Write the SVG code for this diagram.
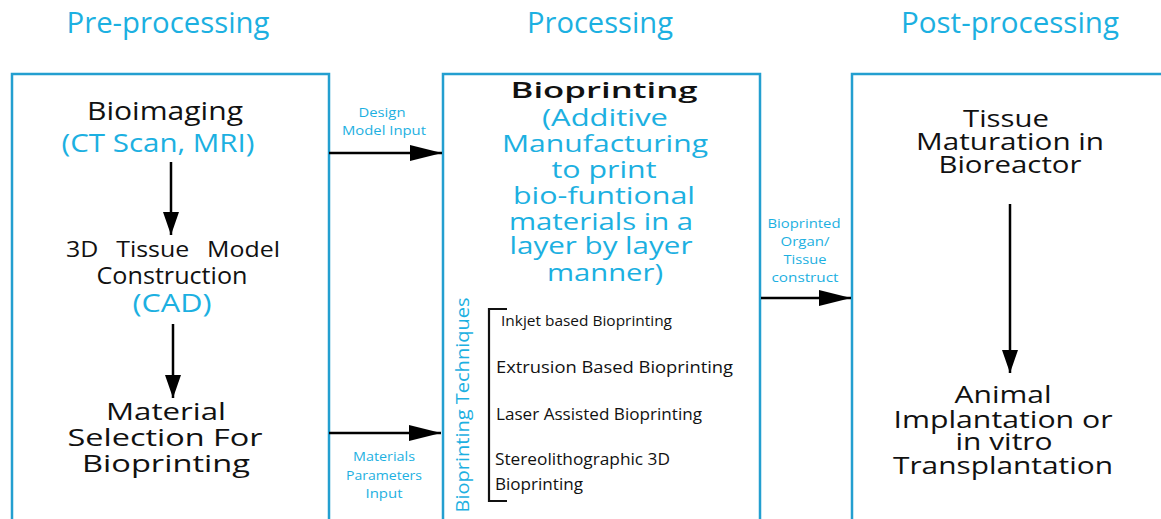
<svg xmlns="http://www.w3.org/2000/svg" width="1161" height="519" viewBox="0 0 1161 519">
<defs>
<style>
text{font-family:"Open Sans","Noto Sans",sans-serif;text-anchor:middle}
.h{font-size:29px;fill:#1cb0e1}
.k{fill:#111}
.c{fill:#1cb0e1}
.big{font-size:26px}
.mid{font-size:24px}
.lbl{font-size:12px;fill:#1cb0e1}
.box{fill:#fff;stroke:#239fd0;stroke-width:2.5}
.ln{stroke:#000;stroke-width:2.5;fill:none}
.it{fill:#111;text-anchor:start}
</style>
<marker id="ahb" viewBox="0 0 10 10" refX="10" refY="5" markerWidth="32" markerHeight="16" markerUnits="userSpaceOnUse" orient="auto" preserveAspectRatio="none">
<path d="M0,0 L10,5 L0,10 z" fill="#000"/>
</marker>
<marker id="ahv" viewBox="0 0 10 10" refX="10" refY="5" markerWidth="23" markerHeight="16" markerUnits="userSpaceOnUse" orient="auto" preserveAspectRatio="none">
<path d="M0,0 L10,5 L0,10 z" fill="#000"/>
</marker>
</defs>
<rect width="1161" height="519" fill="#fff"/>
<g id="headers">
<text class="h" x="168" y="33" textLength="203" lengthAdjust="spacingAndGlyphs">Pre-processing</text>
<text class="h" x="600" y="33" textLength="146" lengthAdjust="spacingAndGlyphs">Processing</text>
<text class="h" x="1010" y="33" textLength="218" lengthAdjust="spacingAndGlyphs">Post-processing</text>
</g>
<g id="pre">
<rect class="box" x="12" y="74" width="317" height="460"/>
<g id="bioimaging">
<text class="k big" x="165" y="120" textLength="156" lengthAdjust="spacingAndGlyphs">Bioimaging</text>
<text class="c big" x="158" y="152" textLength="193" lengthAdjust="spacingAndGlyphs">(CT Scan, MRI)</text>
</g>
<g id="model">
<text class="k" x="173" y="257" font-size="22" textLength="214" lengthAdjust="spacingAndGlyphs" word-spacing="10">3D Tissue Model</text>
<text class="k" x="172" y="284" font-size="23" textLength="151" lengthAdjust="spacingAndGlyphs">Construction</text>
<text class="c" x="172" y="312" font-size="26" textLength="79" lengthAdjust="spacingAndGlyphs">(CAD)</text>
</g>
<g id="material">
<text class="k mid" x="166" y="420" textLength="120" lengthAdjust="spacingAndGlyphs">Material</text>
<text class="k mid" x="165" y="446" textLength="195" lengthAdjust="spacingAndGlyphs">Selection For</text>
<text class="k mid" x="166" y="472" textLength="168" lengthAdjust="spacingAndGlyphs">Bioprinting</text>
</g>
</g>
<g id="proc">
<rect class="box" x="443" y="74" width="317" height="460"/>
<g id="bioprinting">
<text x="604" y="98" font-size="22" font-weight="600" class="k" textLength="187" lengthAdjust="spacingAndGlyphs">Bioprinting</text>
<text class="c mid" x="605" y="126" textLength="126" lengthAdjust="spacingAndGlyphs">(Additive</text>
<text class="c mid" x="605" y="152" textLength="206" lengthAdjust="spacingAndGlyphs">Manufacturing</text>
<text class="c mid" x="604" y="178" textLength="105" lengthAdjust="spacingAndGlyphs">to print</text>
<text class="c mid" x="604" y="204" textLength="182" lengthAdjust="spacingAndGlyphs">bio-funtional</text>
<text class="c mid" x="601" y="230" textLength="184" lengthAdjust="spacingAndGlyphs">materials in a</text>
<text class="c mid" x="601" y="254" textLength="183" lengthAdjust="spacingAndGlyphs">layer by layer</text>
<text class="c mid" x="605" y="281" textLength="116" lengthAdjust="spacingAndGlyphs">manner)</text>
</g>
<g id="techniques">
<text class="c" font-size="18" transform="translate(469,405) rotate(-90)" textLength="215" lengthAdjust="spacingAndGlyphs">Bioprinting Techniques</text>
<path d="M507,309 H489 V501 H507" stroke="#111" stroke-width="2.2" fill="none"/>
<text class="it" x="501" y="326" font-size="14" textLength="171" lengthAdjust="spacingAndGlyphs">Inkjet based Bioprinting</text>
<text class="it" x="496" y="373" font-size="16" textLength="237" lengthAdjust="spacingAndGlyphs">Extrusion Based Bioprinting</text>
<text class="it" x="496" y="420" font-size="15.5" textLength="206" lengthAdjust="spacingAndGlyphs">Laser Assisted Bioprinting</text>
<text class="it" x="495" y="465" font-size="16" textLength="175" lengthAdjust="spacingAndGlyphs">Stereolithographic 3D</text>
<text class="it" x="495" y="490" font-size="16" textLength="88" lengthAdjust="spacingAndGlyphs">Bioprinting</text>
</g>
</g>
<g id="post">
<rect class="box" x="852" y="74" width="330" height="460"/>
<g id="maturation">
<text class="k mid" x="1006" y="127" textLength="86" lengthAdjust="spacingAndGlyphs">Tissue</text>
<text class="k mid" x="1010" y="150" textLength="188" lengthAdjust="spacingAndGlyphs">Maturation in</text>
<text class="k mid" x="1010" y="173" textLength="143" lengthAdjust="spacingAndGlyphs">Bioreactor</text>
</g>
<g id="implant">
<text class="k mid" x="1003" y="403" textLength="97" lengthAdjust="spacingAndGlyphs">Animal</text>
<text class="k mid" x="1003" y="428" textLength="219" lengthAdjust="spacingAndGlyphs">Implantation or</text>
<text class="k mid" x="1004" y="450" textLength="97" lengthAdjust="spacingAndGlyphs">in vitro</text>
<text class="k mid" x="1003" y="474" textLength="220" lengthAdjust="spacingAndGlyphs">Transplantation</text>
</g>
</g>
<g id="connectors">
<line class="ln" x1="171" y1="162" x2="171" y2="235" marker-end="url(#ahv)"/>
<line class="ln" x1="173" y1="324" x2="173" y2="398" marker-end="url(#ahv)"/>
<line class="ln" x1="1010" y1="204" x2="1010" y2="373" marker-end="url(#ahv)"/>
<line class="ln" x1="329" y1="153" x2="442" y2="153" marker-end="url(#ahb)"/>
<line class="ln" x1="329" y1="433" x2="441" y2="433" marker-end="url(#ahb)"/>
<line class="ln" x1="761" y1="298" x2="851" y2="298" marker-end="url(#ahb)"/>
<text class="lbl" x="382" y="117" textLength="47" lengthAdjust="spacingAndGlyphs">Design</text>
<text class="lbl" x="384" y="135" textLength="84" lengthAdjust="spacingAndGlyphs">Model Input</text>
<text class="lbl" x="384" y="461" textLength="62" lengthAdjust="spacingAndGlyphs">Materials</text>
<text class="lbl" x="384" y="480" textLength="76" lengthAdjust="spacingAndGlyphs">Parameters</text>
<text class="lbl" x="384" y="498" textLength="37" lengthAdjust="spacingAndGlyphs">Input</text>
<text class="lbl" x="804" y="228" textLength="73" lengthAdjust="spacingAndGlyphs">Bioprinted</text>
<text class="lbl" x="805" y="246" textLength="49" lengthAdjust="spacingAndGlyphs">Organ/</text>
<text class="lbl" x="805" y="264" textLength="43" lengthAdjust="spacingAndGlyphs">Tissue</text>
<text class="lbl" x="805" y="282" textLength="67" lengthAdjust="spacingAndGlyphs">construct</text>
</g>
</svg>
